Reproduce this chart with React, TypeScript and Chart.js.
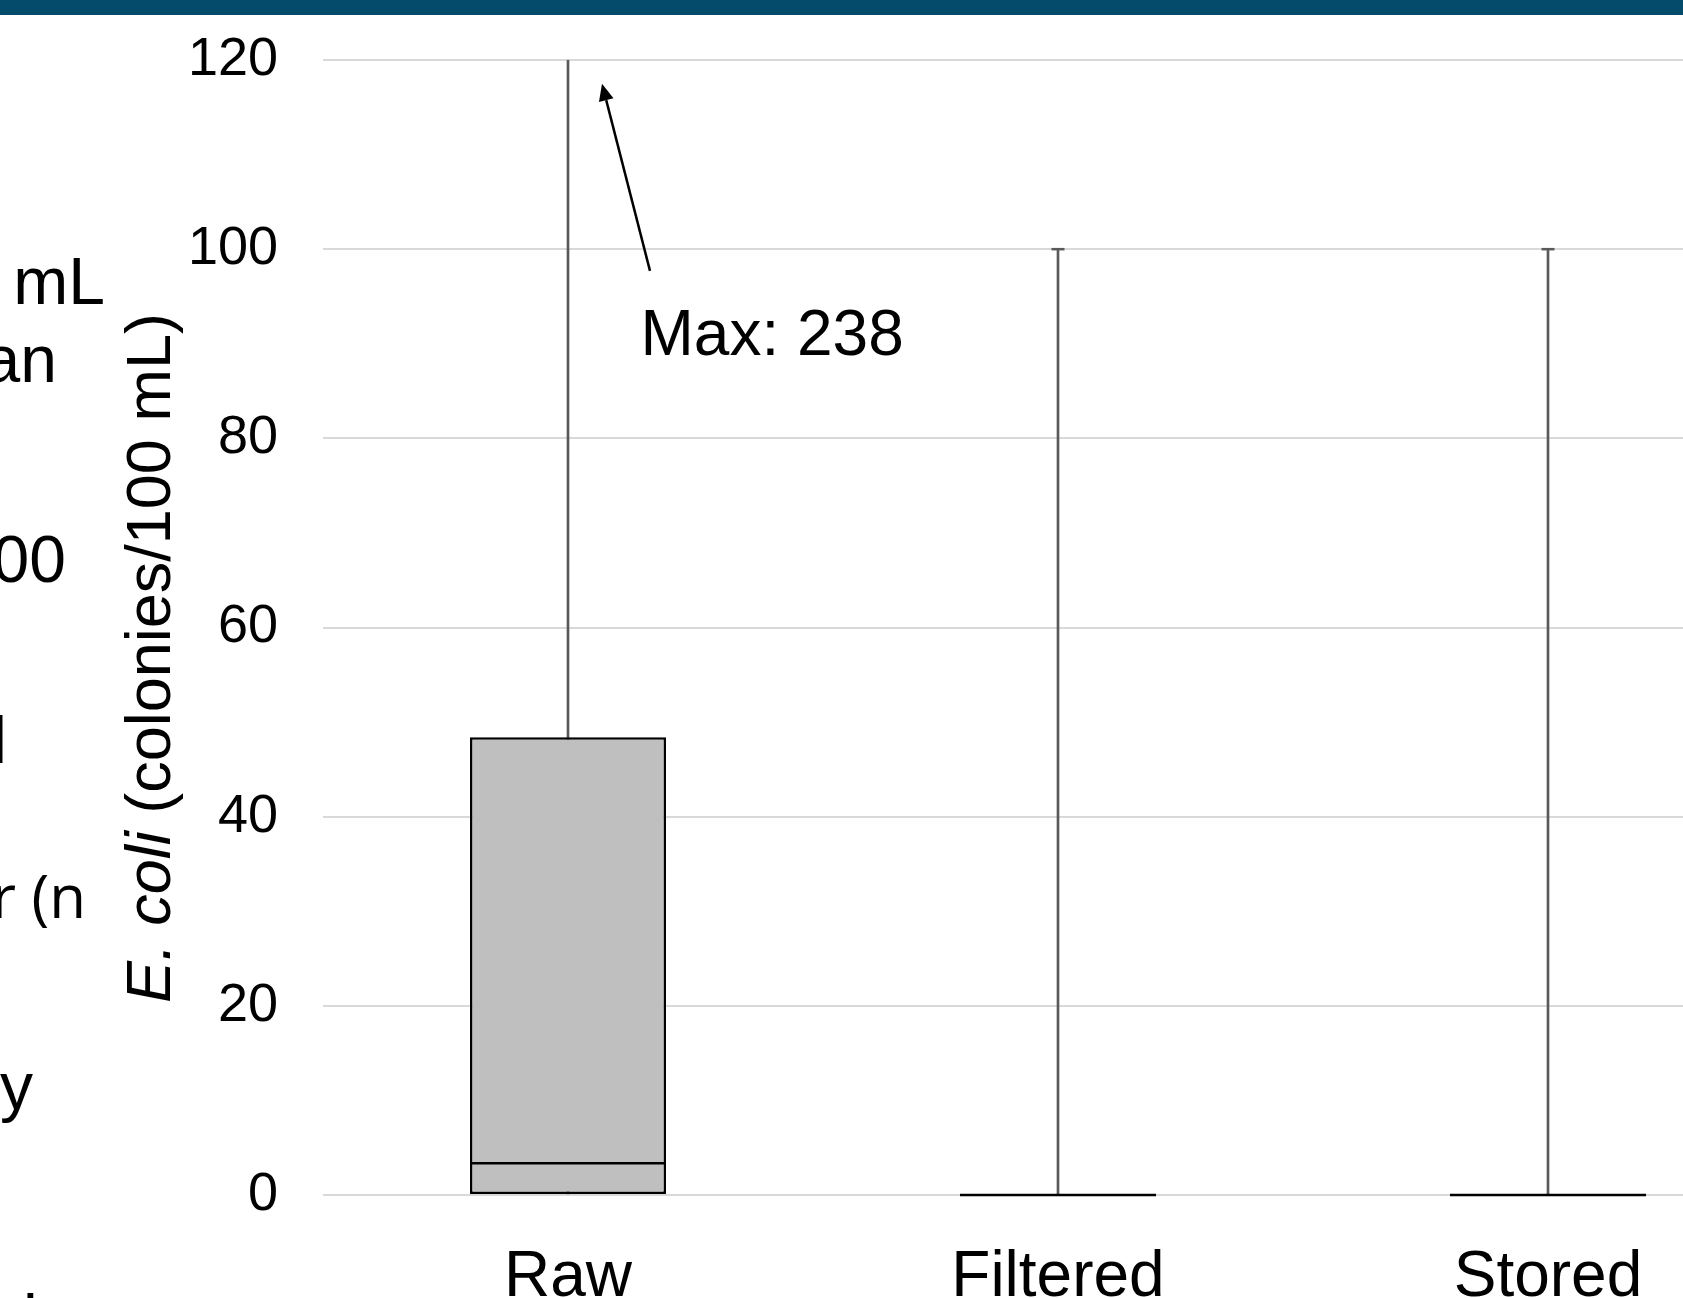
import React, { useEffect, useRef } from "react";
import { Chart, registerables } from "chart.js";

Chart.register(...registerables);

// ---------- data ----------
const categories = ["Raw", "Filtered", "Stored"];
const minValues = [0, 0, 0];
const q1Values = [0, 0, 0];
const medianValues = [3.35, 0, 0];
const q3Values = [48.4, 0, 0];
const maxValues = [238, 100, 100];
const yTickValues = [0, 20, 40, 60, 80, 100, 120];

const yTitleItalic = "E. coli";
const yTitleRest = " (colonies/100 mL)";

// annotation (points at the Raw maximum, which is off the axis)
const annotationCategoryIndex = 0;
const annotationText = `Max: ${maxValues[0]}`;
const arrowTipValue = 117.5;
const arrowTailValue = 97.7;
const annotationBaselineValue = 88.8;

// cut-off text of the slide on the left
const sideTexts = ["mL", "an", "00", "l", "r (n", "y", "l"];

// ---------- styles ----------
const FONT = "'Liberation Sans', Arial, Helvetica, sans-serif";
const FONT2 = "'Open Sans', 'Noto Sans', sans-serif";
const VIEW_W = 1683;
const VIEW_H = 1298;
const CANVAS_W = 1793;
const CANVAS_H = 1345;

const sideTextStyles: { right: number; baseline: number; size: number; family: string; k: number; left?: number }[] = [
  { right: 105, baseline: 304, size: 66, family: FONT, k: 0.8465 },
  { right: 57, baseline: 382, size: 66, family: FONT, k: 0.8465 },
  { right: 66, baseline: 582, size: 66, family: FONT, k: 0.8465 },
  { right: 7, baseline: 763, size: 66, family: FONT, k: 0.8465 },
  { right: 86, baseline: 918, size: 60, family: FONT2, k: 0.888 },
  { right: 33, baseline: 1109, size: 66, family: FONT, k: 0.8465 },
  { right: 0, left: 23, baseline: 1341, size: 66, family: FONT, k: 0.8465 },
];

const annotationPlugin = {
  id: "boxAnnotations",
  afterDraw(chart: any) {
    const { ctx, chartArea } = chart;
    const x = chart.scales.x;
    const y = chart.scales.y;
    ctx.save();

    // arrow + "Max" label
    const cx = x.getPixelForValue(annotationCategoryIndex);
    const tipX = cx + 34;
    const tipY = y.getPixelForValue(arrowTipValue);
    const tailX = cx + 82;
    const tailY = y.getPixelForValue(arrowTailValue);
    const ang = Math.atan2(tipY - tailY, tipX - tailX);
    const headLen = 17;
    const headHalf = 7.5;
    const baseX = tipX - headLen * Math.cos(ang);
    const baseY = tipY - headLen * Math.sin(ang);
    ctx.strokeStyle = "#000";
    ctx.fillStyle = "#000";
    ctx.lineWidth = 2.5;
    ctx.beginPath();
    ctx.moveTo(tailX, tailY);
    ctx.lineTo(baseX, baseY);
    ctx.stroke();
    ctx.beginPath();
    ctx.moveTo(tipX, tipY);
    ctx.lineTo(baseX + headHalf * Math.sin(ang), baseY - headHalf * Math.cos(ang));
    ctx.lineTo(baseX - headHalf * Math.sin(ang), baseY + headHalf * Math.cos(ang));
    ctx.closePath();
    ctx.fill();

    ctx.font = `64px ${FONT}`;
    ctx.textAlign = "left";
    ctx.textBaseline = "alphabetic";
    ctx.fillText(annotationText, cx + 72.5, y.getPixelForValue(annotationBaselineValue));

    // y-axis title with italic species name
    const titleX = chartArea.left - 153;
    const titleY = (chartArea.top + chartArea.bottom) / 2 + 30.5;
    ctx.translate(titleX, titleY);
    ctx.rotate(-Math.PI / 2);
    ctx.font = `italic 63px ${FONT}`;
    const w1 = ctx.measureText(yTitleItalic).width;
    ctx.font = `63px ${FONT}`;
    const w2 = ctx.measureText(yTitleRest).width;
    const start = -(w1 + w2) / 2;
    ctx.font = `italic 63px ${FONT}`;
    ctx.fillText(yTitleItalic, start, 0);
    ctx.font = `63px ${FONT}`;
    ctx.fillText(yTitleRest, start + w1, 0);

    ctx.restore();
  },
};

export default function App() {
  const canvasRef = useRef<HTMLCanvasElement | null>(null);

  useEffect(() => {
    if (!canvasRef.current) return;
    const boxHalfWidth = (c: any) => {
      const s = c.chart.scales.x;
      if (!s || !s.width) return 0;
      return ((s.width / categories.length) * 0.4) / 2;
    };
    const chart = new Chart(canvasRef.current, {
      type: "bar",
      data: {
        labels: categories,
        datasets: [
          {
            type: "bar",
            label: "Whisker",
            data: categories.map((_, i) => [minValues[i], maxValues[i]]),
            backgroundColor: "#595959",
            borderWidth: 0,
            grouped: false,
            barThickness: 2,
            clip: 0,
            order: 3,
          } as any,
          {
            type: "bar",
            label: "Box",
            data: categories.map((_, i) => [q1Values[i], q3Values[i]]),
            backgroundColor: "#BFBFBF",
            borderColor: "#000000",
            borderWidth: 2.5,
            borderSkipped: false,
            grouped: false,
            barPercentage: 0.4,
            categoryPercentage: 1,
            order: 2,
          } as any,
          {
            type: "line",
            label: "Median",
            data: medianValues,
            showLine: false,
            pointStyle: "line",
            pointRadius: boxHalfWidth,
            pointHoverRadius: boxHalfWidth,
            pointBorderColor: "#000000",
            pointBackgroundColor: "#000000",
            pointBorderWidth: 2.5,
            clip: false,
            order: 1,
          } as any,
          {
            type: "line",
            label: "Cap",
            data: maxValues,
            showLine: false,
            pointStyle: "line",
            pointRadius: 6.5,
            pointHoverRadius: 6.5,
            pointBorderColor: "#595959",
            pointBackgroundColor: "#595959",
            pointBorderWidth: 2.5,
            clip: 0,
            order: 1,
          } as any,
        ],
      },
      options: {
        animation: false,
        responsive: false,
        devicePixelRatio: 1,
        events: [],
        layout: { autoPadding: false, padding: { top: 60, left: 0, right: 0, bottom: 0 } },
        plugins: {
          legend: { display: false },
          tooltip: { enabled: false },
          title: { display: false },
        },
        scales: {
          x: {
            offset: true,
            grid: { display: false },
            border: { display: false },
            ticks: {
              color: "#000000",
              font: { family: FONT, size: 64 },
              padding: 37,
              maxRotation: 0,
              autoSkip: false,
            },
            afterFit: (s: any) => {
              s.height = 150;
            },
          },
          y: {
            min: 0,
            max: 120,
            grid: {
              color: "#D9D9D9",
              lineWidth: 2,
              drawTicks: true,
              tickLength: 45,
              tickColor: "rgba(0,0,0,0)",
            },
            border: { display: false },
            ticks: {
              color: "#000000",
              font: { family: FONT, size: 54 },
              padding: 0,
            },
            afterBuildTicks: (s: any) => {
              s.ticks = yTickValues.map((v) => ({ value: v }));
            },
            afterFit: (s: any) => {
              s.width = 323;
            },
          },
        },
      } as any,
      plugins: [annotationPlugin],
    });
    return () => chart.destroy();
  }, []);

  return (
    <div
      style={{
        position: "fixed",
        left: 0,
        top: 0,
        width: VIEW_W,
        height: VIEW_H,
        overflow: "hidden",
        background: "#ffffff",
      }}
    >
      <div style={{ position: "absolute", left: 0, top: 0 }}>
        <canvas
          ref={canvasRef}
          width={CANVAS_W}
          height={CANVAS_H}
          style={{ display: "block", width: CANVAS_W, height: CANVAS_H }}
        />
      </div>
      <div
        style={{
          position: "absolute",
          left: 0,
          top: 0,
          width: VIEW_W,
          height: 15,
          background: "#034A6B",
        }}
      />
      {sideTexts.map((t, i) => {
        const st = sideTextStyles[i];
        const pos: any =
          st.left !== undefined ? { left: st.left } : { right: VIEW_W - st.right };
        return (
          <span
            key={i}
            style={{
              position: "absolute",
              ...pos,
              top: st.baseline - st.k * st.size,
              fontFamily: st.family,
              fontSize: st.size,
              lineHeight: `${st.size}px`,
              whiteSpace: "nowrap",
              color: "#000",
            }}
          >
            {t}
          </span>
        );
      })}
    </div>
  );
}
